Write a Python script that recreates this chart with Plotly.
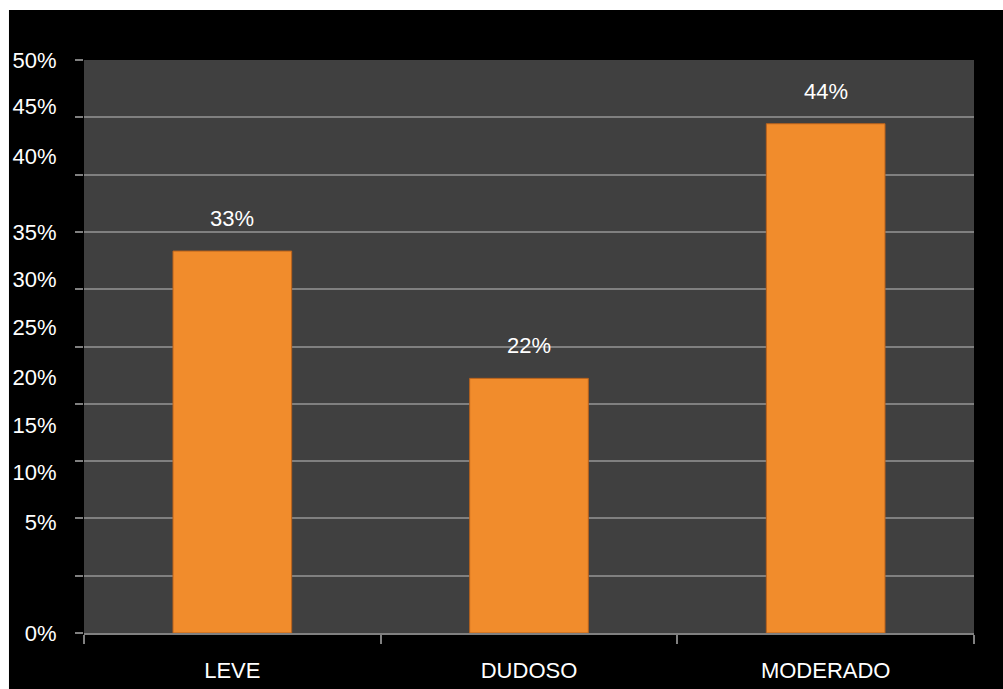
import plotly.graph_objects as go

categories = ["LEVE", "DUDOSO", "MODERADO"]
values = [33.33, 22.22, 44.44]
value_labels = ["33%", "22%", "44%"]

# y-axis tick label texts and where they sit in the original (value units)
ytick_text = ["50%", "45%", "40%", "35%", "30%", "25%", "20%", "15%", "10%", "5%", "0%"]
ytick_pos = [50, 46.0, 41.6, 34.95, 30.9, 26.7, 22.3, 18.15, 14.0, 9.7, 0]

FONT = "Liberation Sans, Arial, sans-serif"

fig = go.Figure()
fig.add_trace(go.Bar(
    x=categories, y=values,
    marker=dict(color="#F18C2C", line=dict(color="#B9621C", width=1)),
    hoverinfo="skip",
))
# invisible trace to activate overlaid y axis for the tick labels
fig.add_trace(go.Scatter(x=categories, y=values, yaxis="y2", mode="markers",
                         marker=dict(opacity=0), showlegend=False, hoverinfo="skip"))

for c, v, t in zip(categories, values, value_labels):
    fig.add_annotation(x=c, y=v, text=t, showarrow=False, yanchor="bottom",
                       yshift=18, font=dict(color="white", size=22, family=FONT))

fig.update_layout(
    width=1003, height=689,
    margin=dict(l=84, r=29, t=60, b=56, autoexpand=False),
    paper_bgcolor="white",
    plot_bgcolor="#404040",
    showlegend=False,
    bargap=0.6,
    font=dict(family=FONT, color="white", size=22),
    shapes=[
        dict(type="rect", xref="paper", yref="paper", x0=-0.0843, x1=1.05,
             y0=-0.2, y1=1.0873, fillcolor="black", line=dict(width=0), layer="below"),
        dict(type="rect", xref="paper", yref="paper", x0=0, x1=1, y0=0, y1=1,
             fillcolor="#404040", line=dict(width=0), layer="below"),
    ],
    xaxis=dict(
        automargin=False,
        showgrid=False, showline=True, linecolor="#808080", linewidth=2,
        ticks="outside", tickson="boundaries", ticklen=9, tickcolor="#808080", tickwidth=2,
        tickfont=dict(color="white", size=22, family=FONT),
        ticklabelstandoff=17,
    ),
    yaxis=dict(
        automargin=False,
        range=[0, 50], dtick=5, showgrid=True, gridcolor="#808080", gridwidth=2,
        ticks="outside", ticklen=8, tickcolor="#808080", tickwidth=2,
        showticklabels=False, zeroline=False, showline=False,
    ),
    yaxis2=dict(
        automargin=False,
        range=[0, 50], overlaying="y", side="left", showgrid=False, zeroline=False,
        tickmode="array", tickvals=ytick_pos, ticktext=ytick_text,
        ticks="outside", ticklen=22, tickcolor="rgba(0,0,0,0)",
        tickfont=dict(color="white", size=22, family=FONT),
    ),
)

fig.write_html("out.html")
